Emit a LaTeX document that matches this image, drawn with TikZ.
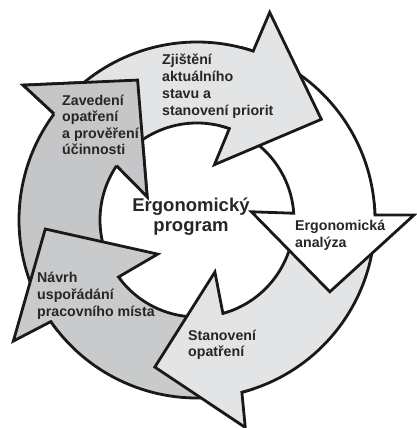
\documentclass[tikz,border=0pt]{standalone}
\usepackage{fontspec}
\setmainfont{Liberation Sans}
\definecolor{lightg}{RGB}{227,228,230}
\definecolor{midg}{RGB}{201,202,204}
\definecolor{darkg}{RGB}{197,198,200}
\definecolor{txt}{RGB}{38,38,38}
\begin{document}
\begin{tikzpicture}[x=1pt,y=1pt,
  arrowbody/.style={draw=black!90, line width=2.8pt, line join=miter, miter limit=10},
  headline/.style={draw=black!90, line width=2.8pt, line join=miter, miter limit=10},
  lbl/.style={font=\bfseries\fontsize{14.2}{17}\selectfont, text=txt, align=left, anchor=base west, inner sep=0pt},
  centerlbl/.style={font=\bfseries\fontsize{18.5}{20}\selectfont, text=txt, align=center, anchor=base, inner sep=0pt}]
\useasboundingbox (0,0) rectangle (416,428);
\begin{scope}[shift={(197,208)}]
% Zavedeni (drawn first)
\draw[arrowbody, fill=darkg] (218:178pt) arc[start angle=218, end angle=143.4, radius=178pt]
  -- (142.2:220pt) -- (113:152pt) -- (155:55pt) -- (146:97pt)
  arc[start angle=146, end angle=218, radius=97pt] -- cycle;
% Navrh
\draw[arrowbody, fill=midg] (288:178pt) arc[start angle=288, end angle=214.8, radius=178pt]
  -- (213.4:220pt) -- (183.4:152pt) -- (221:52pt) -- (216:97pt)
  arc[start angle=216, end angle=288, radius=97pt] -- cycle;
% Stanoveni
\draw[arrowbody, fill=lightg] (5:178pt) arc[start angle=5, end angle=-75.4, radius=178pt]
  -- (-76.9:213pt) -- (-106:153pt) -- (-71:55pt) -- (-74.5:97pt)
  arc[start angle=-74.5, end angle=5, radius=97pt] -- cycle;
% Ergonomicka analyza (white)
\draw[arrowbody, fill=white] (75:178pt) arc[start angle=75, end angle=1.6, radius=178pt]
  -- (1.3:217pt) -- (-28.4:151pt) -- (8.6:55pt) -- (4:97pt)
  arc[start angle=4, end angle=75, radius=97pt] -- cycle;
% Zjisteni
\draw[arrowbody, fill=lightg] (136:178pt) arc[start angle=136, end angle=71.6, radius=178pt]
  -- (70.7:220pt) -- (39:160pt) -- (72.5:58pt) -- (70.5:97pt)
  arc[start angle=70.5, end angle=136, radius=97pt] -- cycle;
% Zavedeni head on top
\fill[darkg] (143.4:178pt) -- (142.2:220pt) -- (113:152pt) -- (155:55pt) -- (146:97pt) -- cycle;
\draw[headline] (143.4:178pt) -- (142.2:220pt) -- (113:152pt) -- (155:55pt) -- (146:97pt);
\end{scope}
\node[lbl, font=\bfseries\fontsize{14.2}{17.3}\selectfont] (zj) at (162,312) {Zjištění\\aktuálního\\stavu a\\stanovení priorit};
\node[lbl, font=\bfseries\fontsize{14.2}{16.5}\selectfont] (za) at (62,273) {Zavedení\\opatření\\a prověření\\účinnosti};
\node[lbl] (ea) at (295,180) {Ergonomická\\analýza};
\node[lbl, font=\bfseries\fontsize{14.2}{16}\selectfont] (st) at (188,71.3) {Stanovení\\opatření};
\node[lbl] (na) at (37,111) {Návrh\\uspořádání\\pracovního místa};
\node[centerlbl] (ep) at (191,196.3) {Ergonomický\\program};
\end{tikzpicture}
\end{document}
